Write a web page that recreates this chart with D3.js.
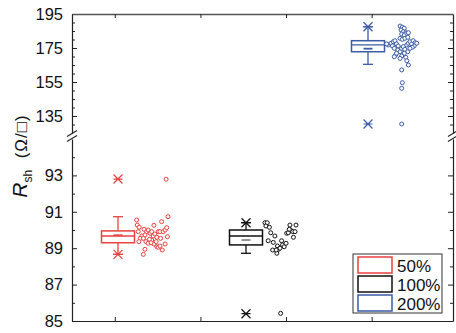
<!DOCTYPE html>
<html>
<head>
<meta charset="utf-8">
<script src="https://cdn.jsdelivr.net/npm/d3@7/dist/d3.min.js"></script>
<style>
  html, body { margin: 0; padding: 0; background: #fff; }
  svg { display: block; font-family: "Liberation Sans", Arial, sans-serif; }
</style>
</head>
<body>
<svg id="chart" width="456" height="333"></svg>
<script>
// Sheet resistance by group: box statistics plus the individual measurements.
const categories = ["50%", "100%", "200%"];
const colors = ["#e8413f", "#111111", "#3b5ba5"];
const meanColors = ["#e8413f", "#8a8a8a", "#3b5ba5"];

// box statistics (Ω/□)
const q1 = [89.30, 89.18, 172.8];
const median = [89.67, 89.67, 176.8];
const q3 = [89.95, 90.00, 179.3];
const mean = [89.71, 89.45, 174.6];
const whiskerLow = [88.66, 88.72, 165.4];
const whiskerHigh = [90.73, 90.40, 187.5];
const minVal = [88.66, 85.40, 130.3];
const maxVal = [92.80, 90.40, 187.5];

// individual measurements and their horizontal jitter (0..1 across the strip)
const values50 = [90.55, 90.27, 90.15, 89.91, 89.67, 89.54, 89.36, 90.04, 89.91, 89.73,
  90.00, 89.82, 89.91, 90.26, 89.67, 89.78, 89.60, 89.91, 89.91, 90.46,
  89.91, 90.00, 90.13, 90.73, 89.63, 89.54, 89.36, 89.27, 88.94, 88.66,
  89.45, 89.23, 89.08, 89.05, 89.12, 88.90, 89.23, 89.49, 89.30, 89.36,
  89.54, 92.79];
const jitter50 = [0.02, 0.04, 0.10, 0.07, 0.18, 0.13, 0.09, 0.25, 0.33, 0.28,
  0.38, 0.44, 0.49, 0.56, 0.54, 0.59, 0.65, 0.70, 0.75, 0.80,
  0.85, 0.91, 0.96, 1.00, 0.98, 0.23, 0.31, 0.38, 0.28, 0.23,
  0.49, 0.56, 0.65, 0.70, 0.75, 0.82, 0.91, 0.42, 0.47, 0.63,
  0.77, 0.94];

const values100 = [90.40, 90.40, 90.22, 90.15, 89.85, 89.67, 89.41, 89.32, 88.90, 88.72,
  89.12, 88.94, 89.41, 89.18, 89.08, 89.27, 89.82, 89.85, 90.27, 90.00,
  89.91, 89.91, 90.27, 89.60, 90.04, 89.00, 88.90, 85.42];
const jitter100 = [0.03, 0.10, 0.06, 0.17, 0.21, 0.34, 0.13, 0.29, 0.27, 0.40,
  0.42, 0.45, 0.55, 0.58, 0.63, 0.69, 0.71, 0.76, 0.81, 0.83,
  0.90, 0.97, 1.00, 0.92, 0.79, 0.50, 0.38, 0.52];

const values200 = [187.9, 187.2, 186.6, 185.6, 184.6, 184.0, 183.2, 182.6, 183.6, 184.0,
  180.7, 180.1, 180.7, 181.3, 176.8, 177.4, 177.8, 178.7, 179.3, 177.4,
  176.2, 176.2, 174.8, 173.8, 172.8, 174.8, 175.8, 174.2, 176.8, 177.8,
  178.7, 177.4, 179.3, 178.1, 177.8, 176.2, 175.4, 174.8, 172.8, 171.9,
  170.3, 170.9, 169.9, 171.9, 168.9, 169.5, 167.5, 165.0, 162.1, 154.6,
  151.3, 130.3];
const jitter200 = [0.44, 0.51, 0.57, 0.47, 0.54, 0.62, 0.49, 0.57, 0.65, 0.70,
  0.44, 0.51, 0.59, 0.68, 0.07, 0.02, 0.16, 0.23, 0.28, 0.33,
  0.20, 0.38, 0.26, 0.37, 0.44, 0.49, 0.54, 0.59, 0.65, 0.70,
  0.75, 0.80, 0.85, 0.91, 0.96, 0.88, 0.82, 0.75, 0.68, 0.57,
  0.49, 0.30, 0.26, 0.33, 0.44, 0.62, 0.65, 0.70, 0.49, 0.51,
  0.49, 0.49];

const groupValues = [values50, values100, values200];
const groupJitter = [jitter50, jitter100, jitter200];

// axis ticks
const upperTicks = [135, 155, 175, 195];
const upperMinor = [130, 140, 145, 150, 160, 165, 170, 180, 185, 190];
const lowerTicks = [85, 87, 89, 91, 93];
const lowerMinor = [86, 88, 90, 92, 94];
const xTicks = [1, 2, 3, 4];

// ---- layout ----
const svg = d3.select("#chart");
const L = 72, R = 453, T = 14, B = 321;
const upperBottom = 133, lowerTop = 139;

const yUpper = d3.scaleLinear().domain([125, 195]).range([upperBottom, T]);
const yLower = d3.scaleLinear().domain([85, 95]).range([B, lowerTop]);
const y = v => (v >= 110 ? yUpper(v) : yLower(v));

const x = d3.scaleLinear().domain([0.5, 4.95]).range([L, R]);
const xGroup = d3.scaleOrdinal().domain(categories).range([118, 246, 368]);

const axisColor = "#222";

function styleAxis(g) {
  g.selectAll("path.domain").attr("stroke", axisColor).attr("stroke-width", 1.2);
  g.selectAll(".tick line").attr("stroke", axisColor).attr("stroke-width", 1);
}

// left axis: two segments
[[yUpper, upperTicks, upperMinor], [yLower, lowerTicks, lowerMinor]].forEach(([sc, major, minor]) => {
  const gl = svg.append("g").attr("transform", `translate(${L},0)`)
    .call(d3.axisLeft(sc).tickValues(major).tickSize(-5).tickSizeOuter(0).tickPadding(9));
  styleAxis(gl);
  gl.selectAll(".tick text").attr("font-size", 16.5).attr("fill", "#111")
    .attr("font-family", "'Liberation Sans', Arial, sans-serif");
  const glm = svg.append("g").attr("transform", `translate(${L},0)`)
    .call(d3.axisLeft(sc).tickValues(minor).tickSize(-3).tickSizeOuter(0).tickFormat(""));
  styleAxis(glm);
  glm.select("path.domain").remove();

  const gr = svg.append("g").attr("transform", `translate(${R},0)`)
    .call(d3.axisRight(sc).tickValues(major).tickSize(-5).tickSizeOuter(0).tickFormat(""));
  styleAxis(gr);
  const grm = svg.append("g").attr("transform", `translate(${R},0)`)
    .call(d3.axisRight(sc).tickValues(minor).tickSize(-3).tickSizeOuter(0).tickFormat(""));
  styleAxis(grm);
  grm.select("path.domain").remove();
});

// top and bottom axes
const gb = svg.append("g").attr("transform", `translate(0,${B})`)
  .call(d3.axisBottom(x).tickValues(xTicks).tickSize(-4).tickSizeOuter(0).tickFormat(""));
styleAxis(gb);
const gt = svg.append("g").attr("transform", `translate(0,${T})`)
  .call(d3.axisTop(x).tickValues(xTicks).tickSize(-4).tickSizeOuter(0).tickFormat(""));
styleAxis(gt);
gt.select("path.domain").attr("stroke", "#555").attr("stroke-width", 1.6);

// axis break marks
[L, R].forEach(ax => {
  [upperBottom + 0.5, lowerTop - 0.5].forEach(yy => {
    svg.append("line")
      .attr("x1", ax - 5).attr("y1", yy + 3)
      .attr("x2", ax + 5).attr("y2", yy - 3)
      .attr("stroke", axisColor).attr("stroke-width", 1.1);
  });
});

// ---- boxes ----
const boxW = 33, capW = 10, markS = 4.5;

categories.forEach((cat, i) => {
  const cx = xGroup(cat);
  const col = colors[i];
  const g = svg.append("g").attr("stroke", col).attr("fill", "none");

  // whiskers
  g.append("line").attr("x1", cx).attr("x2", cx)
    .attr("y1", y(q3[i])).attr("y2", y(whiskerHigh[i])).attr("stroke-width", 1.3);
  g.append("line").attr("x1", cx).attr("x2", cx)
    .attr("y1", y(q1[i])).attr("y2", y(whiskerLow[i])).attr("stroke-width", 1.3);
  [whiskerHigh[i], whiskerLow[i]].forEach(v => {
    g.append("line").attr("x1", cx - capW / 2).attr("x2", cx + capW / 2)
      .attr("y1", y(v)).attr("y2", y(v)).attr("stroke-width", 1.3);
  });

  // box
  g.append("rect")
    .attr("x", cx - boxW / 2).attr("width", boxW)
    .attr("y", y(q3[i])).attr("height", y(q1[i]) - y(q3[i]))
    .attr("fill", "#fff").attr("stroke-width", 1.5);
  g.append("line").attr("x1", cx - boxW / 2).attr("x2", cx + boxW / 2)
    .attr("y1", y(median[i])).attr("y2", y(median[i])).attr("stroke-width", 1.3);

  // mean
  g.append("line").attr("x1", cx - 4.5).attr("x2", cx + 4.5)
    .attr("y1", y(mean[i])).attr("y2", y(mean[i]))
    .attr("stroke", meanColors[i]).attr("stroke-width", 1.8);

  // min / max markers
  [minVal[i], maxVal[i]].forEach(v => {
    const yy = y(v);
    g.append("path")
      .attr("d", `M${cx - markS},${yy - markS}L${cx + markS},${yy + markS}M${cx - markS},${yy + markS}L${cx + markS},${yy - markS}M${cx - markS},${yy}L${cx + markS},${yy}`)
      .attr("stroke-width", 1.2);
  });

  // individual points
  const pts = groupValues[i].map((v, k) => ({ v, j: groupJitter[i][k] }));
  g.selectAll("circle").data(pts).join("circle")
    .attr("cx", d => cx + 18 + d.j * 32)
    .attr("cy", d => y(d.v))
    .attr("r", 2)
    .attr("fill", "#fff")
    .attr("stroke-width", 1);
});

// ---- y-axis title ----
const title = svg.append("text")
  .attr("transform", "translate(27,156) rotate(-90)")
  .attr("text-anchor", "middle")
  .attr("fill", "#111");
title.append("tspan").text("R").attr("font-style", "italic").attr("font-size", 21);
title.append("tspan").text("sh").attr("font-size", 12).attr("dy", 5);
title.append("tspan").text("\u00a0\u00a0(\u03a9/\u25a1)").attr("font-size", 17).attr("dy", -5)
  .attr("letter-spacing", 1);

// ---- legend ----
const lg = svg.append("g");
lg.append("rect").attr("x", 353).attr("y", 254).attr("width", 89).attr("height", 59)
  .attr("fill", "#fff").attr("stroke", "#333").attr("stroke-width", 1);
categories.forEach((cat, i) => {
  const yy = 257 + i * 19;
  lg.append("rect").attr("x", 358).attr("y", yy).attr("width", 34).attr("height", 16)
    .attr("fill", "#fff").attr("stroke", colors[i]).attr("stroke-width", 1.5);
  lg.append("text").attr("x", 397).attr("y", yy + 14.5)
    .attr("font-size", 17).attr("fill", "#111").text(cat);
});
</script>
</body>
</html>
